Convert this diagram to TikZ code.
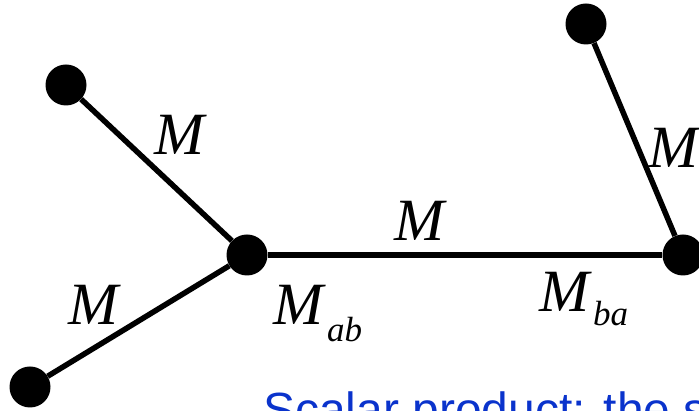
\documentclass[tikz,border=0pt]{standalone}
\usepackage{fontspec}
\setmainfont{Liberation Serif}
\newfontfamily\capsans{Liberation Sans}
\usepackage{xcolor}
\usepackage{tikz}
\definecolor{capblue}{HTML}{0A33CC}

\begin{document}
\begin{tikzpicture}[x=1pt,y=1pt,
    vtx/.style={circle,fill=black,minimum size=41pt,inner sep=0pt},
    bond/.style={line width=5.5pt},
    lab/.style={inner sep=0pt,anchor=base west,font=\fontsize{60}{60}\selectfont\itshape}]
  \useasboundingbox (0,0) rectangle (699,411);
  % vertices
  \node[vtx] (a)  at (247,156) {};
  \node[vtx] (b)  at (683,156) {};
  \node[vtx] (a1) at (66,326) {};
  \node[vtx] (a2) at (30,24) {};
  \node[vtx] (b1) at (586,387) {};
  % bonds
  \draw[bond] (a1) -- (a);
  \draw[bond] (a2) -- (a);
  \draw[bond] (a) -- (b);
  \draw[bond] (b1) -- (b);
  % labels
  \node[lab] (ma1) at (154,256) {M};
  \node[lab] (ma2) at (68,86) {M};
  \node[lab] (mab0) at (394,170) {M};
  \node[lab] (mb1) at (648,243) {M};
  \node[lab] (mab) at (273,86) {M\raisebox{-17pt}{\fontsize{35}{35}\selectfont\kern4pt ab}};
  \node[lab] (mba) at (539,99) {M\raisebox{-14pt}{\fontsize{35}{35}\selectfont\kern4pt ba}};
  \node[anchor=base west,inner sep=0pt,text=capblue,font=\capsans\fontsize{48}{48}\selectfont]
    (cap) at (263,-16) {Scalar product: the s};
\end{tikzpicture}
\end{document}
